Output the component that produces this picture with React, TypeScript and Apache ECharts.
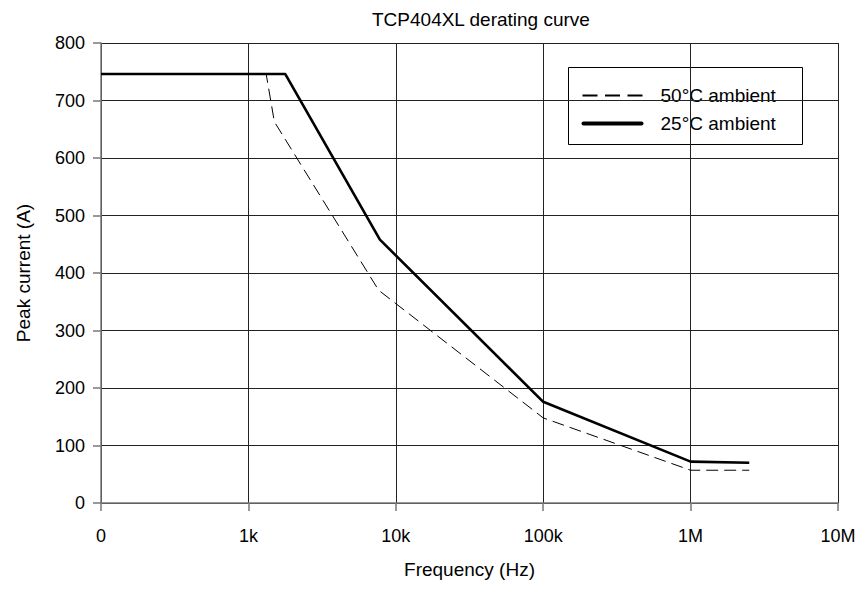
import React, { useEffect, useRef } from "react";
import * as echarts from "echarts";

const titleText = "TCP404XL derating curve";
const xAxisName = "Frequency (Hz)";
const yAxisName = "Peak current (A)";
const seriesNames = ["50°C ambient", "25°C ambient"];

// 50°C ambient curve
const freq50 = [100, 1320, 1500, 7650, 100000, 1000000, 2500000];
const peak50 = [746, 746, 663, 370, 148, 57, 57];

// 25°C ambient curve
const freq25 = [100, 1780, 7800, 100000, 1000000, 2500000];
const peak25 = [746, 746, 458, 176, 72, 70];

const xTickValues = [100, 1000, 10000, 100000, 1000000, 10000000];
const xTickLabels = ["0", "1k", "10k", "100k", "1M", "10M"];

const FONT = "'Liberation Sans', Arial, sans-serif";

export default function App() {
  const ref = useRef<HTMLDivElement>(null);
  useEffect(() => {
    if (!ref.current) return;
    const chart = echarts.init(ref.current, undefined, { renderer: "svg" });
    const pairs = (xs: number[], ys: number[]) => xs.map((x, i) => [x, ys[i]]);
    const labelFor = (v: number) => {
      let best = 0;
      let bd = Infinity;
      xTickValues.forEach((t, i) => {
        const d = Math.abs(Math.log10(v) - Math.log10(t));
        if (d < bd) {
          bd = d;
          best = i;
        }
      });
      return bd < 0.01 ? xTickLabels[best] : "";
    };
    chart.setOption({
      animation: false,
      backgroundColor: "#fff",
      textStyle: { fontFamily: FONT, color: "#000" },
      title: {
        text: titleText,
        left: 372,
        top: 10,
        padding: 0,
        textStyle: { fontFamily: FONT, fontSize: 19, fontWeight: "normal", color: "#000" },
      },
      legend: { show: false },
      graphic: [
        {
          type: "group",
          left: 568,
          top: 67,
          z: 100,
          children: [
            {
              type: "rect",
              shape: { x: 0, y: 0, width: 234, height: 77 },
              style: { fill: "#fff", stroke: "#000", lineWidth: 1 },
            },
            {
              type: "line",
              shape: { x1: 14, y1: 28, x2: 74, y2: 28 },
              style: { stroke: "#000", lineWidth: 2, lineDash: [15, 7.5] },
            },
            {
              type: "line",
              shape: { x1: 15, y1: 56, x2: 73, y2: 56 },
              style: { stroke: "#000", lineWidth: 4, lineCap: "round" },
            },
            {
              type: "text",
              x: 92,
              y: 28,
              style: {
                text: seriesNames[0],
                fontFamily: FONT,
                fontSize: 19,
                fill: "#000",
                verticalAlign: "middle",
                align: "left",
              },
            },
            {
              type: "text",
              x: 92,
              y: 56,
              style: {
                text: seriesNames[1],
                fontFamily: FONT,
                fontSize: 19,
                fill: "#000",
                verticalAlign: "middle",
                align: "left",
              },
            },
          ],
        },
      ],
      grid: { left: 101, right: 30, top: 43, bottom: 86, containLabel: false },
      xAxis: {
        type: "log",
        logBase: 10,
        min: 100,
        max: 10000000,
        name: xAxisName,
        nameLocation: "middle",
        nameGap: 57,
        nameTextStyle: { fontFamily: FONT, fontSize: 19, color: "#000" },
        axisLine: { show: true, lineStyle: { color: "#777", width: 1.5 } },
        axisTick: { show: true, length: 8, lineStyle: { color: "#777", width: 1.5 } },
        minorTick: { show: false },
        axisLabel: {
          fontFamily: FONT,
          fontSize: 18,
          color: "#000",
          margin: 24,
          formatter: (v: number) => labelFor(v),
        },
        splitLine: { show: true, lineStyle: { color: "#222", width: 1 } },
      },
      yAxis: {
        type: "value",
        min: 0,
        max: 800,
        interval: 100,
        name: yAxisName,
        nameLocation: "middle",
        nameGap: 68,
        nameTextStyle: { fontFamily: FONT, fontSize: 19, color: "#000" },
        axisLine: { show: true, lineStyle: { color: "#777", width: 1.5 } },
        axisTick: { show: true, length: 8, lineStyle: { color: "#777", width: 1.5 } },
        axisLabel: { fontFamily: FONT, fontSize: 18, color: "#000", margin: 16 },
        splitLine: { show: true, lineStyle: { color: "#222", width: 1 } },
      },
      series: [
        {
          name: seriesNames[0],
          type: "line",
          data: pairs(freq50, peak50),
          symbol: "none",
          lineStyle: { color: "#000", width: 1, type: [12, 6] },
          itemStyle: { color: "#000" },
          z: 2,
        },
        {
          name: seriesNames[1],
          type: "line",
          data: pairs(freq25, peak25),
          symbol: "none",
          lineStyle: { color: "#000", width: 2.6 },
          itemStyle: { color: "#000" },
          z: 3,
        },
      ],
    });
    return () => chart.dispose();
  }, []);
  return (
    <div
      ref={ref}
      style={{ position: "fixed", left: 0, top: 0, width: 868, height: 589, background: "#fff" }}
    />
  );
}
